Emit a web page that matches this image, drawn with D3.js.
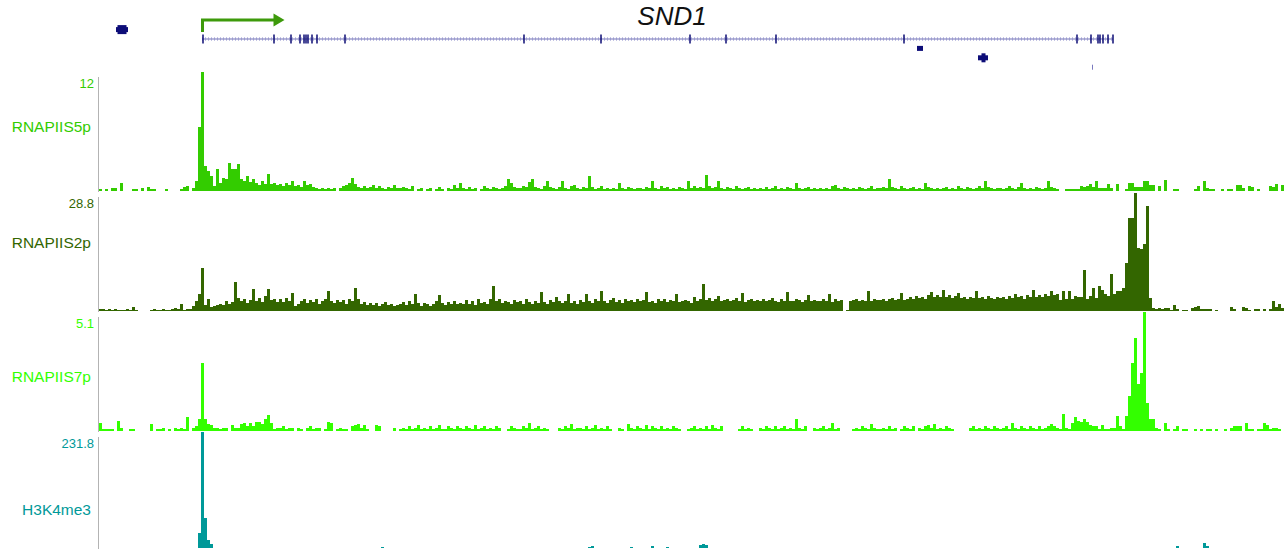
<!DOCTYPE html>
<html lang="en">
<head>
<meta charset="utf-8">
<title>SND1</title>
<script src="https://d3js.org/d3.v7.min.js"></script>
<style>
  body { margin: 0; background: #fff; }
  svg { display: block; font-family: "Liberation Sans", Arial, sans-serif; }
</style>
</head>
<body>
<div id="chart"></div>
<script>
// region shown, in kb from the left edge; signal comes in 1.5 kb bins
var regionKb = 592.5, binKb = 1.5;

var trackNames = ["RNAPIIS5p", "RNAPIIS2p", "RNAPIIS7p", "H3K4me3"];
var trackMax = [12, 28.8, 5.1, 231.8];

// one row = 20 bins = 30 kb
var s5p = [
  0.2,0,0.2,0,0.3,0.3,0,0.8,0,0,0,0.2,0.2,0,0.3,0,0.4,0.2,0.2,0,
  0,0,0.2,0,0,0,0,0.2,0.4,0.5,0,0.3,1.0,6.5,12,2.5,2.0,1.5,0.5,2.2,
  0.8,1.3,1.2,2.8,2.2,2.2,2.7,1.2,1.0,1.5,0.9,1.2,0.8,0.6,1.0,0.7,1.7,0.7,0.8,0.6,
  0.7,0.5,0.8,0.6,1.0,0.5,0.6,0.4,1.0,0.6,0.7,0.4,0.3,0.2,0.3,0.2,0.3,0.2,0.3,0,
  0.3,0.5,0.6,0.8,1.3,0.7,0.4,0.3,0.5,0.3,0.4,0.6,0.3,0.5,0.3,0.2,0.4,0.3,0.6,0.3,
  0.3,0.4,0.3,0.2,0.5,0,0.2,0.3,0,0.2,0.3,0,0.2,0.4,0.2,0,0.3,0.2,0.6,0.3,
  0.8,0.3,0.2,0.4,0.2,0.3,0,0.2,0.5,0.3,0.2,0.4,0.3,0.2,0.3,0.5,1.2,0.8,0.4,0.3,
  0.3,0.5,0.4,0.9,1.2,0.4,0.3,0.2,0.5,1.0,0.4,0.3,0.2,0.4,1.0,0.3,0.2,0.5,0.6,0.3,
  0.2,0.4,0.3,1.5,0.4,0.2,0.3,0.5,0.2,0.3,0.2,0.3,0.2,0.8,0.3,0.2,0.4,0.3,0.2,0.3,
  0.3,0.2,0.4,0.3,1.0,0.3,0.2,0.5,0.3,0.4,0.2,0.3,0.2,0.4,0.3,0.2,1.0,0.3,0.5,0.3,
  0.4,0.3,1.6,0.5,0.3,0.4,1.0,0.3,0.2,0.4,0.3,0.2,0.5,0.3,0.2,0.3,0.4,0.2,0.3,0.2,
  0.3,0.2,0.4,0.2,0.3,0.5,0.2,0.3,0.2,0.4,0.3,0.2,0.8,0.3,0.2,0.3,0.4,0.2,0.3,0.2,
  0.3,0.2,0.3,0.2,0.5,0.6,0.3,0.2,0.4,0.3,0.2,0.3,0.2,0.4,0.3,0.2,0.3,0.5,0.2,0.3,
  0.3,0.4,0.3,1.2,0.4,0.3,0.2,0.5,0.3,0.2,0.3,0.4,0.2,0.3,0.2,0.8,0.4,0.3,0.2,0.3,
  0.2,0.3,0.4,0.2,0.3,0.2,0.5,0.3,0.2,0.4,0.3,0.2,0.3,0.5,0.3,1.0,0.4,0.3,0.2,0.3,
  0.3,0.2,0.3,0.5,0.3,0.2,0.4,0.8,0.3,0.2,0.3,0.2,0.4,0.3,0.2,0.3,1.0,0.4,0.3,0.2,
  0,0,0.2,0.2,0.2,0.2,0.2,0.5,0.4,0.5,0.7,0.4,1.0,0.3,0.3,0.3,0.7,0.3,0,0.7,
  0,0,0.2,0.8,0.8,0.4,0.4,0.4,1.0,1.0,0.6,0.6,0,0.5,0,1.1,0,0,0.2,0.2,
  0,0,0,0,0,0.2,0.5,0,1.0,0.3,0.2,0.2,0,0,0.2,0,0.2,0.2,0,0.6,
  0.6,0.3,0,0.5,0.4,0,0.2,0,0,0,0.5,0.4,0.7,0,0.6
];

var s2p = [
  0.5,0.4,0.3,0.4,0.3,0.4,0.3,0.3,0.3,0.4,0.3,1.0,0.3,0,0,0,0,0.3,0.4,0.3,
  0.3,0.4,0.3,0.3,0.5,0.8,0.5,1.7,0.3,0.4,0.5,1.2,2.4,4.1,10.4,1.5,2.9,1.0,1.2,1.5,
  1.8,1.5,2.4,1.7,2.2,7.0,3.1,2.5,2.8,2.0,2.6,5.3,2.4,3.2,2.2,3.6,5.3,2.6,3.0,2.2,
  2.8,2.1,3.2,2.4,4.3,1.2,1.6,2.5,2.9,1.9,2.6,2.2,3.0,1.8,2.4,2.8,4.8,2.3,2.0,2.7,
  2.2,2.6,1.8,2.9,2.3,5.5,3.0,1.8,2.2,1.5,2.0,1.4,1.9,1.2,1.6,2.1,1.4,1.8,1.2,1.5,
  1.8,2.2,1.4,2.4,1.6,4.2,1.9,1.3,2.0,1.6,1.2,1.8,2.3,3.8,1.9,1.4,2.1,1.7,2.4,1.6,
  2.0,1.7,2.6,1.8,2.3,1.5,2.8,2.0,2.2,1.6,3.0,6.0,2.4,2.8,1.9,2.5,2.2,1.8,2.6,2.1,
  2.4,1.8,2.9,2.2,1.7,2.5,2.0,4.5,2.2,1.8,2.6,2.1,3.4,2.3,1.9,2.4,4.0,2.0,2.5,1.8,
  2.6,2.2,4.0,2.4,2.0,2.8,2.4,4.8,2.5,2.0,2.7,3.1,2.2,2.6,2.0,2.9,2.3,2.6,2.1,2.8,
  2.3,2.7,4.5,2.2,2.5,2.0,2.8,2.4,3.0,2.2,2.6,2.3,4.2,2.1,2.5,2.7,2.3,2.0,3.4,2.5,
  2.8,6.5,2.6,3.2,2.4,2.9,3.6,2.5,2.7,3.0,2.3,2.6,3.1,2.4,4.4,2.2,2.7,3.0,2.4,2.6,
  2.4,2.9,2.3,2.7,3.2,2.5,2.2,2.8,2.4,4.6,2.5,2.3,2.9,2.6,2.2,2.7,3.9,2.4,2.6,2.3,
  2.5,2.8,2.3,4.2,2.2,3.0,2.4,2.7,0,0.3,2.3,2.6,2.9,2.4,2.7,2.3,4.8,2.5,2.8,2.6,
  2.7,3.0,2.5,2.8,3.2,2.6,2.9,4.4,2.7,3.0,3.3,2.8,3.6,3.1,3.5,2.9,3.8,4.6,3.4,3.9,
  3.5,5.0,3.3,3.8,3.2,3.6,4.4,3.1,3.4,3.0,3.5,3.2,4.8,3.1,3.3,2.9,3.6,3.2,3.0,3.4,
  3.1,3.5,2.9,3.7,3.2,4.0,3.3,3.6,3.0,3.8,3.4,5.2,3.5,3.9,3.3,4.2,3.6,4.8,3.8,4.1,
  2.6,4.8,3.0,4.8,2.9,3.6,3.5,3.4,9.9,2.9,3.6,5.6,3.2,6.0,5.2,4.0,3.6,8.9,4.0,4.8,
  4.8,5.6,11.6,22.5,22.5,28.5,15.3,15.0,16.2,25.4,3.2,0.7,0.5,0.7,0.5,0.7,0.7,0.3,1.4,0.5,
  0,0.3,0.3,0,0.8,0.9,1.2,0.5,0.5,0.5,0.4,0,0.3,0,0,0,0,0.9,0.5,0,
  0,0.9,0.8,0.3,0,0.5,0.4,0,0.5,0,0.6,2.4,1.0,1.6,0.7
];

var s7p = [
  0.35,0.1,0.1,0.1,0.1,0,0.45,0.15,0,0,0.1,0.1,0,0,0,0,0,0.3,0,0.1,
  0.1,0.15,0,0.1,0,0.15,0.1,0.15,0.1,0.6,0,0.15,0.2,0.5,2.9,0.5,0.3,0.25,0.15,0.15,
  0.1,0.15,0.15,0,0.25,0.15,0.15,0.3,0.35,0.2,0.35,0.2,0.4,0.4,0.3,0.5,0.7,0.35,0.1,0.15,
  0.15,0.2,0.1,0.15,0.15,0,0.15,0.1,0,0.15,0.2,0.1,0.15,0.15,0,0.1,0.4,0.35,0,0.1,
  0.15,0.1,0.1,0,0.2,0.25,0.3,0.15,0.25,0.1,0,0,0.25,0.2,0,0,0,0,0.15,0,
  0.1,0.15,0.1,0.2,0.1,0.15,0.25,0.1,0.15,0.1,0.2,0.1,0.15,0.25,0.1,0.1,0.2,0.15,0.1,0.2,
  0.15,0.1,0.2,0.15,0.1,0.25,0.1,0.15,0.2,0.1,0.15,0.1,0.2,0.15,0,0,0.1,0.2,0.15,0.1,
  0.1,0.2,0.15,0.35,0.1,0.15,0.2,0.1,0.15,0.1,0,0,0,0.15,0.1,0.2,0.15,0.3,0.1,0.15,
  0.15,0.1,0.2,0.1,0.15,0.25,0.1,0.15,0.1,0.2,0.1,0,0,0.15,0.1,0,0.3,0.15,0.1,0.2,
  0.15,0.1,0.25,0.1,0.2,0.15,0.1,0.2,0.1,0.15,0.1,0.2,0.15,0.1,0,0,0.1,0.15,0.2,0.1,
  0.15,0.1,0.2,0.1,0.25,0.15,0.1,0.2,0,0,0,0,0,0.1,0.2,0.1,0.15,0.1,0,0,
  0.15,0.1,0.2,0.15,0.1,0.2,0.1,0.15,0.2,0.1,0.15,0.1,0.5,0.15,0.1,0.2,0,0,0.15,0.1,
  0.15,0.2,0.1,0.15,0.35,0.1,0.15,0,0,0,0,0.1,0.15,0.1,0.2,0.15,0.1,0.3,0.15,0.1,
  0.1,0.15,0.1,0.2,0.1,0.15,0,0.1,0.2,0.15,0.1,0.2,0,0.15,0.1,0.2,0.25,0.15,0.3,0.1,
  0.15,0.1,0.2,0.15,0.1,0,0,0,0,0,0.15,0.2,0.1,0.15,0.1,0.2,0.15,0.1,0.2,0.15,
  0.1,0.15,0.2,0.1,0.35,0.15,0.1,0.2,0.15,0.1,0.2,0.15,0.1,0.2,0.1,0.15,0.2,0.3,0.2,0.15,
  0.1,0.75,0.15,0.1,0.35,0.6,0.45,0.4,0.5,0.4,0.25,0.2,0.2,0.1,0.25,0.1,0.1,0.15,0.15,0.65,
  0.2,0.1,0.65,1.5,2.9,4.0,2.0,2.5,5.1,1.2,0.5,0.5,0.15,0.1,0,0.35,0.1,0,0.1,0.2,
  0,0.1,0.1,0,0,0.1,0,0.1,0,0.1,0.1,0,0.1,0,0,0.1,0,0.15,0.2,0.2,
  0.2,0,0.35,0.1,0.1,0,0.1,0.1,0.35,0.25,0.1,0.15,0.15,0.1,0
];

var h3k4me3 = [
  0,0,0,0,0,0,0,0,0,0,0,0,0,0,0,0,0,0,0,0,
  0,0,0,0,0,0,0,0,0,0,0,0,0,30,231.8,60,16,8,0,0,
  0,0,0,0,0,0,0,0,0,0,0,0,0,0,0,0,0,0,0,0,
  0,0,0,0,0,0,0,0,0,0,0,0,0,0,0,0,0,0,0,0,
  0,0,0,0,0,0,0,0,0,0,0,0,0,0,2.5,0,0,0,0,0,
  0,0,0,0,0,0,0,0,0,0,0,0,0,0,0,0,0,0,0,0,
  0,0,0,0,0,0,0,0,0,0,0,0,0,0,0,0,0,0,0,0,
  0,0,0,0,0,0,0,0,0,0,0,0,0,0,0,0,0,0,0,0,
  0,0,0,2,4,0,0,0,0,0,0,0,0,0,0,0,0,2.5,0,0,
  0,0,0,0,4,0,0,0,0,2.5,0,0,0,0,0,0,0,0,0,0,
  6,8,5,0,0,0,0,0,0,0,0,0,0,0,0,0,0,0,0,0,
  0,0,0,0,0,0,0,0,0,0,0,0,0,0,0,0,0,0,0,0,
  0,0,0,0,0,0,0,0,0,0,0,0,0,0,0,0,0,0,0,0,
  0,0,0,0,0,0,0,0,0,0,0,0,0,0,0,0,0,0,0,0,
  0,0,0,0,0,0,0,0,0,0,0,0,0,0,0,0,0,0,0,0,
  0,0,0,0,0,0,0,0,0,0,0,0,0,0,0,0,0,0,0,0,
  0,0,0,0,0,0,0,0,0,0,0,0,0,0,0,0,0,0,0,0,
  0,0,0,0,0,0,0,0,0,0,0,0,0,0,0,0,0,0,0,4,
  0,0,0,0,0,0,0,0,10,4,0,0,0,0,0,0,0,0,0,0,
  0,0,0,0,0,0,0,0,0,0,0,0,0,0,0
];

// gene model, kb
var geneName = "SND1";
var geneStart = 51.5, geneEnd = 507;
var exons = [52, 87.5, 96, 100.5, 102.5, 103.5, 104.5, 106.5, 109, 123,
             212.5, 251, 295.5, 313.5, 338.5, 402.5,
             489, 496, 499.5, 500.5, 502, 504.5, 507];
// other annotations: start, end, thick part, packing row
var features = [
  {start: 8.5, end: 14.5, thickStart: 9.25, thickEnd: 13.75, row: -1},
  {start: 409, end: 412, thickStart: null, thickEnd: null, row: 1},
  {start: 439.5, end: 444.5, thickStart: 441.25, thickEnd: 443.25, row: 2},
  {start: 496.5, end: 497, thickStart: null, thickEnd: null, row: 3, faint: true}
];

var signals = [s5p, s2p, s7p, h3k4me3];
var colours = ["#33cc00", "#336600", "#33ff00", "#009999"];

// layout
var width = 1285, height = 549;
var tops = [72, 192, 312, 432], bottoms = [191, 311, 431, 548];
var nameY = [132, 248, 382, 515];

var svg = d3.select("#chart").append("svg")
  .attr("width", width)
  .attr("height", height);

var x = d3.scaleLinear().domain([0, regionKb]).range([99, 1284]);

// ---- gene track ----
var geneY = 39, rowStep = 9.4;
var g = svg.append("g");

g.append("line")
  .attr("x1", x(geneStart)).attr("x2", x(geneEnd))
  .attr("y1", geneY).attr("y2", geneY)
  .style("stroke", "#c4c4e4").style("stroke-width", 4)
  .style("stroke-dasharray", "1,2");
g.append("line")
  .attr("x1", x(geneStart)).attr("x2", x(geneEnd))
  .attr("y1", geneY).attr("y2", geneY)
  .style("stroke", "#7272b8").style("stroke-width", 1.2);

g.selectAll(".exon")
  .data(exons)
  .enter().append("line")
  .attr("class", "exon")
  .attr("x1", function(d) { return x(d); })
  .attr("x2", function(d) { return x(d); })
  .attr("y1", geneY - 4.5).attr("y2", geneY + 4.5)
  .style("stroke", "#0d0d75").style("stroke-width", 1.5);

// transcription start arrow
var tss = x(geneStart) + 0.5;
g.append("path")
  .attr("d", "M" + tss + ",32V20H" + (tss + 72))
  .style("fill", "none").style("stroke", "#3d9a0b").style("stroke-width", 3);
g.append("path")
  .attr("d", "M" + (tss + 71) + ",13.5L" + (tss + 82) + ",20L" + (tss + 71) + ",26.5Z")
  .style("fill", "#3d9a0b");

g.append("text")
  .attr("x", 672).attr("y", 25)
  .attr("text-anchor", "middle")
  .style("font-size", "26px").style("font-style", "italic")
  .style("fill", "#111")
  .text(geneName);

features.forEach(function(f) {
  var cy = geneY + f.row * rowStep;
  var col = f.faint ? "#7a7abf" : "#0d0d78";
  g.append("rect")
    .attr("x", x(f.start)).attr("width", Math.max(1, x(f.end) - x(f.start)))
    .attr("y", cy - 2.5).attr("height", 5)
    .style("fill", col);
  if (f.thickStart != null) {
    g.append("rect")
      .attr("x", x(f.thickStart)).attr("width", x(f.thickEnd) - x(f.thickStart))
      .attr("y", cy - 4.5).attr("height", 9)
      .style("fill", col);
  }
});

// ---- signal tracks ----
signals.forEach(function(vals, t) {
  var y = d3.scaleLinear()
    .domain([0, trackMax[t]])
    .range([bottoms[t], tops[t]])
    .clamp(true);
  var tg = svg.append("g");

  tg.append("line")
    .attr("x1", 98.5).attr("x2", 98.5)
    .attr("y1", tops[t] + 5).attr("y2", bottoms[t] + 1)
    .style("stroke", "#b3b3b3").style("stroke-width", 1);

  tg.append("text")
    .attr("x", 94).attr("y", tops[t] + 16)
    .attr("text-anchor", "end")
    .style("font-size", "13px")
    .style("fill", colours[t])
    .text(trackMax[t]);

  tg.append("text")
    .attr("x", 91).attr("y", nameY[t])
    .attr("text-anchor", "end")
    .style("font-size", "15.5px")
    .style("fill", colours[t])
    .text(trackNames[t]);

  tg.selectAll("rect")
    .data(vals.map(function(v, i) { return {i: i, v: v}; }).filter(function(d) { return d.v > 0; }))
    .enter().append("rect")
    .attr("x", function(d) { return x(d.i * binKb); })
    .attr("width", function(d) { return x((d.i + 1) * binKb) - x(d.i * binKb); })
    .attr("y", function(d) { return y(d.v); })
    .attr("height", function(d) { return bottoms[t] - y(d.v); })
    .attr("shape-rendering", "crispEdges")
    .style("fill", colours[t]);
});
</script>
</body>
</html>
